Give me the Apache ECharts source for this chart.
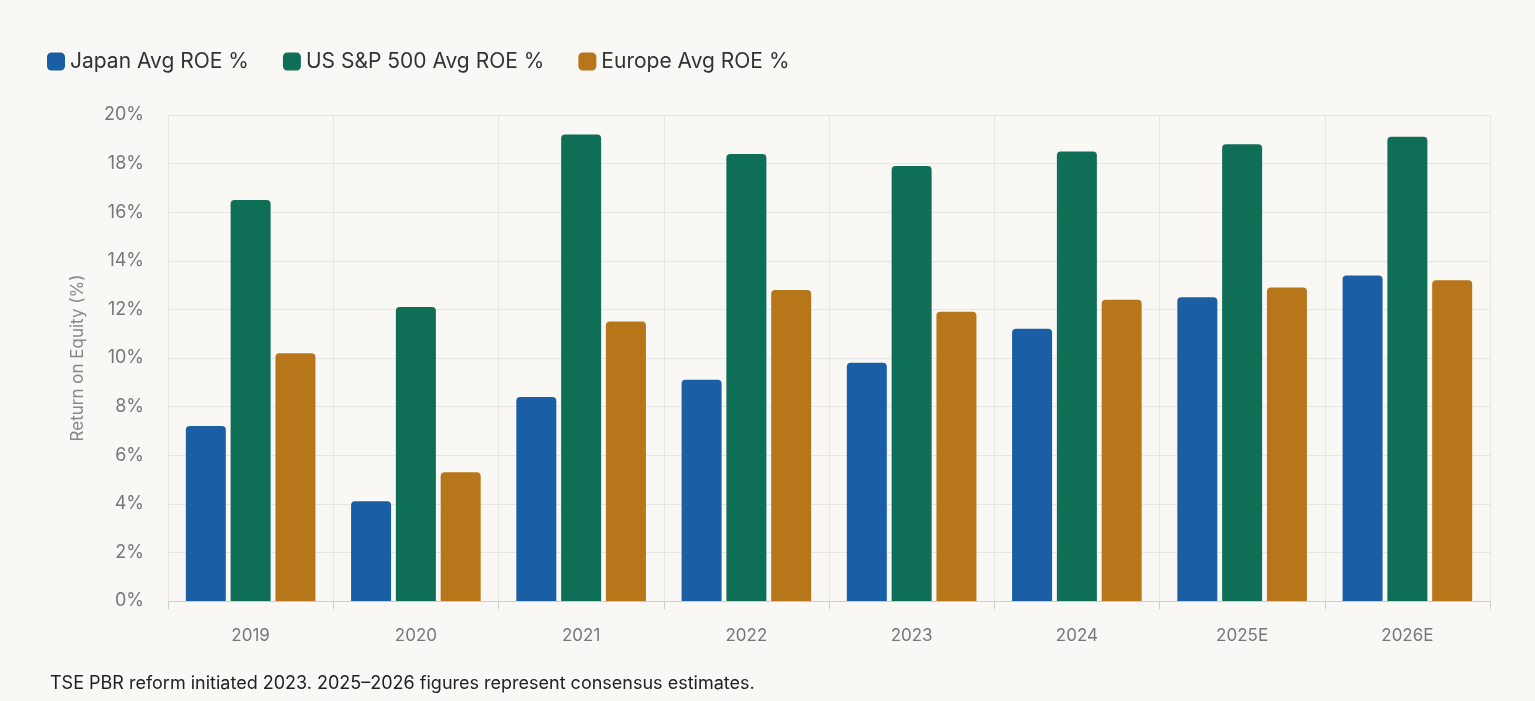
<!DOCTYPE html>
<html>
<head>
<meta charset="utf-8">
<script src="https://cdn.jsdelivr.net/npm/echarts@6/dist/echarts.min.js"></script>
<style>
  html, body { margin: 0; padding: 0; background: #f9f8f5; }
  #chart { width: 1535px; height: 701px; }
</style>
</head>
<body>
<div id="chart"></div>
<script>
var categories = ['2019', '2020', '2021', '2022', '2023', '2024', '2025E', '2026E'];
var japanRoe = [7.2, 4.1, 8.4, 9.1, 9.8, 11.2, 12.5, 13.4];
var usRoe = [16.5, 12.1, 19.2, 18.4, 17.9, 18.5, 18.8, 19.1];
var europeRoe = [10.2, 5.3, 11.5, 12.8, 11.9, 12.4, 12.9, 13.2];

var chart = echarts.init(document.getElementById('chart'));
var font = 'Inter, "Noto Sans", sans-serif';

function bar(name, data, color) {
    return {
        name: name,
        type: 'bar',
        data: data,
        barWidth: 40,
        barGap: '12%',
        itemStyle: { color: color, borderRadius: [4, 4, 0, 0] }
    };
}

var option = {
    backgroundColor: '#f9f8f5',
    textStyle: { fontFamily: font },
    legend: {
        left: 42,
        top: 46,
        itemWidth: 18,
        itemHeight: 18,
        itemGap: 34,
        icon: 'roundRect',
        textStyle: { fontSize: 21, color: '#333', fontFamily: font },
        data: ['Japan Avg ROE %', 'US S&P 500 Avg ROE %', 'Europe Avg ROE %']
    },
    grid: { left: 168, right: 45, top: 115, bottom: 100 },
    xAxis: {
        type: 'category',
        data: categories,
        axisLine: { lineStyle: { color: '#ccc' } },
        axisTick: { show: true, length: 8, lineStyle: { color: '#ccc' } },
        axisLabel: { fontSize: 17, color: '#777', margin: 26 },
        splitLine: { show: true, lineStyle: { color: '#e8e6e2' } }
    },
    yAxis: {
        type: 'value',
        min: 0,
        max: 20,
        interval: 2,
        name: 'Return on Equity (%)',
        nameLocation: 'middle',
        nameGap: 82,
        nameTextStyle: { fontSize: 17, color: '#888' },
        axisLine: { show: false },
        axisLabel: { fontSize: 18, color: '#777', formatter: '{value}%', margin: 24 },
        splitLine: { lineStyle: { color: '#e8e6e2' } }
    },
    graphic: [{
        type: 'text',
        left: 50,
        top: 675,
        style: {
            text: 'TSE PBR reform initiated 2023. 2025–2026 figures represent consensus estimates.',
            fontSize: 18,
            fill: '#222',
            fontFamily: font
        }
    }],
    series: [
        bar('Japan Avg ROE %', japanRoe, '#1a5fa6'),
        bar('US S&P 500 Avg ROE %', usRoe, '#0f6e56'),
        bar('Europe Avg ROE %', europeRoe, '#b8761a')
    ]
};

chart.setOption(option);
</script>
</body>
</html>
